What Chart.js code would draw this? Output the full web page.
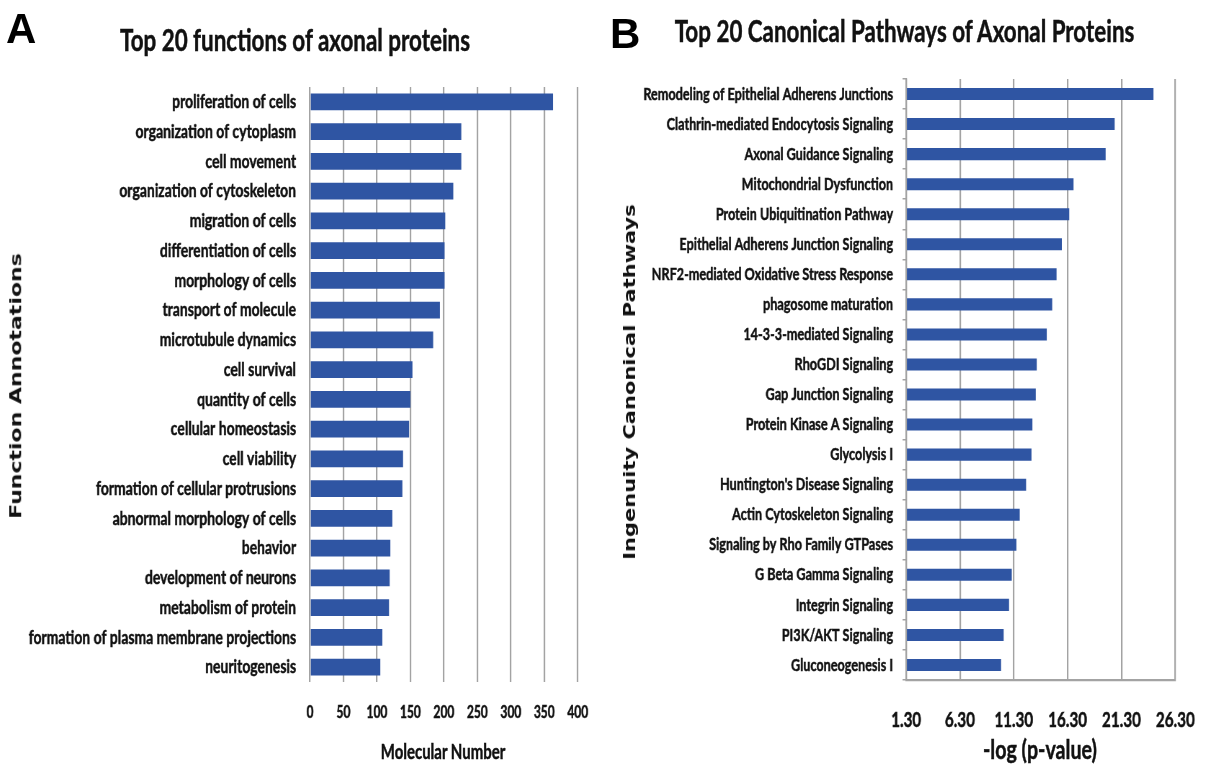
<!DOCTYPE html>
<html><head><meta charset="utf-8">
<script src="https://cdn.jsdelivr.net/npm/chart.js@4"></script>
<style>
html,body{margin:0;padding:0;background:#fff;width:1210px;height:770px;overflow:hidden;}
#wrap{position:absolute;left:0;top:0;width:1680.56px;height:770px;transform:scaleX(0.72);transform-origin:0 0;}
.t{position:absolute;font-family:Lato,'Open Sans',sans-serif;font-weight:700;color:#111;white-space:nowrap;line-height:1;transform:translateX(-50%);-webkit-text-stroke:0.5px #111;}
.yt{position:absolute;font-family:'DejaVu Sans',sans-serif;font-weight:700;color:#111;white-space:nowrap;line-height:1;transform:translate(-50%,-50%) rotate(-90deg);}
.letter{position:absolute;font-family:'Liberation Sans',Arial,sans-serif;font-weight:700;font-size:42px;line-height:1;color:#000;}
canvas{position:absolute;}
</style></head>
<body>
<div id="wrap">
  <canvas id="cA" width="833.33" height="710" style="left:0;top:60px;width:833.33px;height:710px"></canvas>
  <canvas id="cB" width="847.22" height="720" style="left:833.33px;top:50px;width:847.22px;height:720px"></canvas>
  <div class="t" style="left:409.7px;top:23.5px;font-size:31.1px">Top 20 functions of axonal proteins</div>
  <div class="t" style="left:1256.25px;top:15px;font-size:31.1px">Top 20 Canonical Pathways of Axonal Proteins</div>
  <div class="t" style="left:615.3px;top:741px;font-size:20.8px">Molecular Number</div>
  <div class="t" style="left:1444.4px;top:735px;font-size:27.3px">-log (p-value)</div>
  <div class="yt" style="left:22.9px;top:385.5px;font-size:22px">Function Annotations</div>
  <div class="yt" style="left:875px;top:381.5px;font-size:21px">Ingenuity Canonical Pathways</div>
</div>
<div class="letter" style="left:6px;top:7.5px">A</div>
<div class="letter" style="left:610px;top:12.5px">B</div>
<script>
const funcLabels = [
  'proliferation of cells','organization of cytoplasm','cell movement','organization of cytoskeleton',
  'migration of cells','differentiation of cells','morphology of cells','transport of molecule',
  'microtubule dynamics','cell survival','quantity of cells','cellular homeostasis','cell viability',
  'formation of cellular protrusions','abnormal morphology of cells','behavior','development of neurons',
  'metabolism of protein','formation of plasma membrane projections','neuritogenesis'
];
const funcValues = [363,226,226,214,202,201,201,194,184,153,150,148,139,138,123,120,119,118,108,105];
const funcTicks = [0,50,100,150,200,250,300,350,400];
const funcTickLabels = ['0','50','100','150','200','250','300','350','400'];

const pathLabels = [
  'Remodeling of Epithelial Adherens Junctions','Clathrin-mediated Endocytosis Signaling',
  'Axonal Guidance Signaling','Mitochondrial Dysfunction','Protein Ubiquitination Pathway',
  'Epithelial Adherens Junction Signaling','NRF2-mediated Oxidative Stress Response',
  'phagosome maturation','14-3-3-mediated Signaling','RhoGDI Signaling','Gap Junction Signaling',
  'Protein Kinase A Signaling','Glycolysis I',"Huntington's Disease Signaling",
  'Actin Cytoskeleton Signaling','Signaling by Rho Family GTPases','G Beta Gamma Signaling',
  'Integrin Signaling','PI3K/AKT Signaling','Gluconeogenesis I'
];
const pathValues = [24.27,20.67,19.83,16.85,16.45,15.76,15.27,14.87,14.36,13.43,13.34,13.03,12.94,12.44,11.85,11.54,11.11,10.86,10.36,10.12];
const pathTicks = [1.3,6.3,11.3,16.3,21.3,26.3];
const pathTickLabels = ['1.30','6.30','11.30','16.30','21.30','26.30'];

const BAR = '#2F55A3';
const GRID = '#a3a3a3';
const INK = '#111';
const FONT = 'Lato';
const NONE = 'rgba(0,0,0,0)';

function tickFont(size) {
  return { family: FONT, weight: 'bold', size: size };
}

new Chart(document.getElementById('cA'), {
  type: 'bar',
  data: { labels: funcLabels, datasets: [{ data: funcValues, backgroundColor: BAR, borderWidth: 0, barPercentage: 0.555, categoryPercentage: 1 }] },
  options: {
    indexAxis: 'y', responsive: false, animation: false,
    layout: { padding: { top: 27, right: 30.55, left: 0, bottom: 0 } },
    plugins: { legend: { display: false }, tooltip: { enabled: false } },
    scales: {
      x: {
        min: 0, max: 400,
        afterBuildTicks: s => { s.ticks = funcTicks.map(v => ({ value: v })); },
        afterFit: s => { s.height = 88; },
        grid: { color: GRID, lineWidth: 2.2, drawTicks: true, tickLength: 21, tickColor: NONE },
        border: { display: false },
        ticks: { padding: 0, autoSkip: false, maxRotation: 0, color: INK, textStrokeColor: INK, textStrokeWidth: 0.5,
                 font: tickFont(16.7), callback: (v, i) => funcTickLabels[i] }
      },
      y: {
        afterFit: s => { s.width = 430.56; },
        grid: { display: true, drawOnChartArea: false, drawTicks: true, tickLength: 19.4, tickColor: NONE },
        border: { display: false },
        ticks: { padding: 0, autoSkip: false, color: INK, textStrokeColor: INK, textStrokeWidth: 0.5, font: tickFont(19.4) }
      }
    }
  }
});

new Chart(document.getElementById('cB'), {
  type: 'bar',
  data: { labels: pathLabels, datasets: [{ data: pathValues, base: 1.3, backgroundColor: BAR, borderWidth: 0, barPercentage: 0.4, categoryPercentage: 1 }] },
  options: {
    indexAxis: 'y', responsive: false, animation: false,
    layout: { padding: { top: 29, right: 48.6, left: 0, bottom: 0 } },
    plugins: { legend: { display: false }, tooltip: { enabled: false } },
    scales: {
      x: {
        min: 1.3, max: 26.3,
        afterBuildTicks: s => { s.ticks = pathTicks.map(v => ({ value: v })); },
        afterFit: s => { s.height = 90; },
        grid: { color: GRID, lineWidth: 2.2, drawTicks: true, tickLength: 28, tickColor: NONE },
        border: { display: true, color: GRID, width: 2.2 },
        ticks: { padding: 0, autoSkip: false, maxRotation: 0, color: INK, textStrokeColor: INK, textStrokeWidth: 0.5,
                 font: tickFont(21.1), callback: (v, i) => pathTickLabels[i] }
      },
      y: {
        afterFit: s => { s.width = 425.0; },
        grid: { display: true, drawOnChartArea: false, drawTicks: true, tickLength: 5, color: GRID, lineWidth: 1.5 },
        border: { display: true, color: GRID, width: 2.2 },
        ticks: { padding: 13.06, autoSkip: false, color: INK, textStrokeColor: INK, textStrokeWidth: 0.5, font: tickFont(17.56) }
      }
    }
  }
});
</script>
</body></html>
